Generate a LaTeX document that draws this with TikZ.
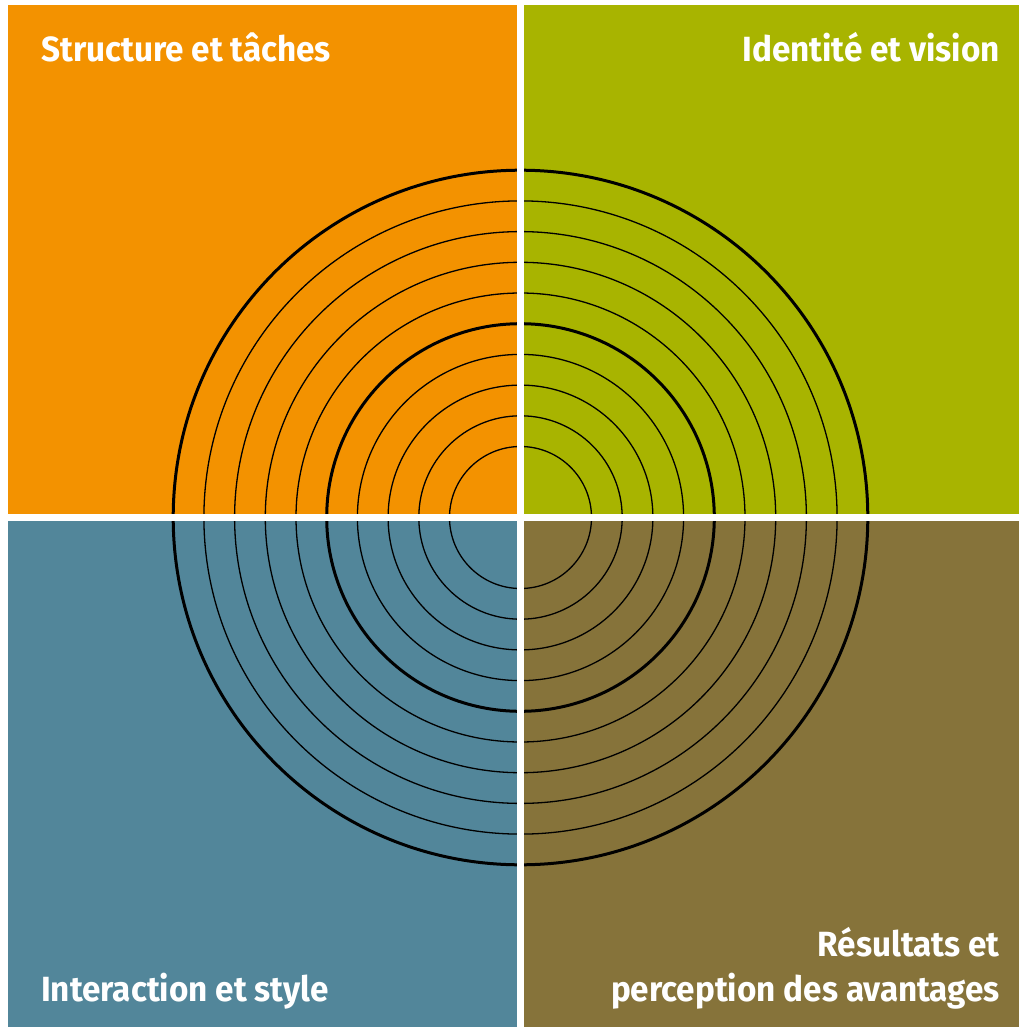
\documentclass[tikz,border=0pt]{standalone}
\usepackage{fontspec}
\newfontfamily\quadfont[FakeStretch=0.95]{Fira Sans}

\definecolor{qorange}{RGB}{243,146,0}
\definecolor{qgreen}{RGB}{168,180,0}
\definecolor{qblue}{RGB}{82,134,154}
\definecolor{qbrown}{RGB}{134,115,58}

\tikzset{
  qlabel/.style={inner sep=0pt, text=white, font=\quadfont\bfseries\fontsize{35}{45}\selectfont},
  ring/.style={draw=black, line width=1.3pt},
  thickring/.style={draw=black, line width=3pt}
}

\begin{document}
\begin{tikzpicture}[x=1pt,y=-1pt]
\useasboundingbox (0,0) rectangle (1019,1027);
\fill[white] (0,0) rectangle (1019,1027);
\fill[qorange] (8,5) rectangle (517,514);
\fill[qgreen] (524,5) rectangle (1019,514);
\fill[qblue] (8,521) rectangle (517,1027);
\fill[qbrown] (524,521) rectangle (1019,1027);
\coordinate (c) at (520.5,517.5);
\foreach \k in {0,...,9}{
  \pgfmathsetmacro\r{71+30.7*\k}
  \ifnum\k=4 \draw[thickring] (c) circle[radius=\r pt];
  \else\ifnum\k=9 \draw[thickring] (c) circle[radius=\r pt];
  \else \draw[ring] (c) circle[radius=\r pt];
  \fi\fi
}
\fill[white] (517,0) rectangle (524,1027);
\fill[white] (8,514) rectangle (1019,521);
\node[qlabel, anchor=base west] (structure) at (41,62) {Structure et tâches};
\node[qlabel, anchor=base east] (identite) at (1000,62) {Identité et vision};
\node[qlabel, anchor=base west] (interaction) at (41,1001) {Interaction et style};
\node[qlabel, anchor=base east, align=right] (resultats) at (1000,1001) {Résultats et\\perception des avantages};
\end{tikzpicture}
\end{document}
